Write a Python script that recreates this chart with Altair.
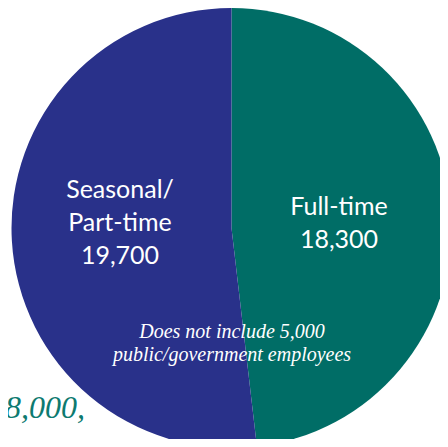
import altair as alt
import pandas as pd

categories = ["Full-time", "Seasonal/Part-time"]
values = [18300, 19700]
colors = ["#006d66", "#29318a"]

df = pd.DataFrame({"category": categories, "value": values, "order": [0, 1]})

pie = alt.Chart(df).mark_arc(radius=220, stroke=None).encode(
    theta=alt.Theta("value:Q", stack=True),
    order=alt.Order("order:Q"),
    color=alt.Color("category:N", scale=alt.Scale(domain=categories, range=colors), legend=None),
    x=alt.value(223.5),
    y=alt.value(220),
)

label_lines = ["Full-time", "18,300", "Seasonal/", "Part-time", "19,700"]
label_x = [331, 331, 112, 112, 112]
label_y = [207, 240, 190, 223, 256]
labels_df = pd.DataFrame({"t": label_lines, "x": label_x, "y": label_y})

labels = alt.Chart(labels_df).mark_text(
    font="Lato", fontSize=25, color="white", align="center", baseline="alphabetic"
).encode(x=alt.X("x:Q", scale=None), y=alt.Y("y:Q", scale=None), text="t:N")

note_lines = ["Does not include 5,000", "public/government employees"]
note_df = pd.DataFrame({"t": note_lines, "x": [224, 224], "y": [330, 353]})
note = alt.Chart(note_df).mark_text(
    font="Liberation Serif", fontStyle="italic", fontSize=20, color="white",
    align="center", baseline="alphabetic"
).encode(x=alt.X("x:Q", scale=None), y=alt.Y("y:Q", scale=None), text="t:N")

total_df = pd.DataFrame({"t": ["38,000,"], "x": [77], "y": [410]})
total = alt.Chart(total_df).mark_text(
    font="Liberation Serif", fontStyle="italic", fontSize=32, color="#0d7a70",
    align="right", baseline="alphabetic"
).encode(x=alt.X("x:Q", scale=None), y=alt.Y("y:Q", scale=None), text="t:N")

chart = alt.layer(pie, labels, note, total).properties(
    width=432, height=431, padding=0, autosize=alt.AutoSizeParams(type="none")
).configure_view(stroke=None)

chart.save("out.html", embed_options={"renderer": "svg", "actions": False})
